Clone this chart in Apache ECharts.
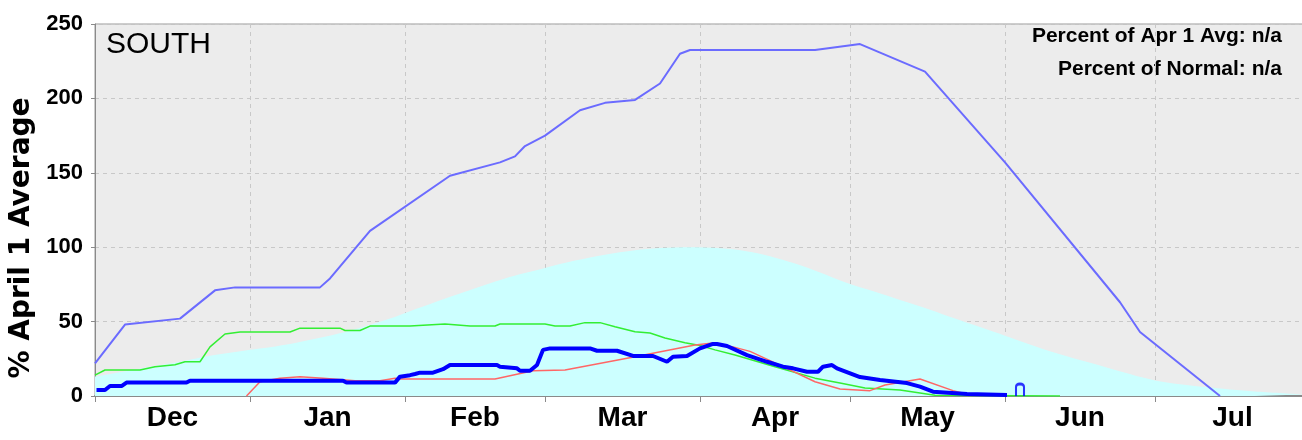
<!DOCTYPE html>
<html>
<head>
<meta charset="utf-8">
<script src="https://cdn.jsdelivr.net/npm/echarts@6.0.0/dist/echarts.min.js"></script>
<style>
  html, body { margin: 0; padding: 0; background: #fff; }
  #c1 { width: 1302px; height: 440px; }
</style>
</head>
<body>
<div id="c1"></div>
<script>
// x = days since Dec 1
const monthNames = ['Dec', 'Jan', 'Feb', 'Mar', 'Apr', 'May', 'Jun', 'Jul']
const monthStarts = [0, 31, 62, 90, 121, 151, 182, 212, 243]
const labelDays = [15.5, 46.5, 76, 105.5, 136, 166.5, 197, 227.5]

// normal (median) – cyan area
const normalArea = [
  [0, 13], [10, 19], [17, 23], [23, 27], [31, 31], [39, 35], [50, 43], [59, 52], [63, 57],
  [74, 70], [82, 79], [90, 86], [96, 91], [102, 95], [108, 98], [113, 99.5], [119, 100],
  [125, 99.3], [130, 97.5], [135, 94], [140, 89], [145, 83], [150, 76.5], [156, 70],
  [161, 64.5], [167, 58], [172, 52], [182, 40.5], [192, 29], [202, 19.5], [212, 10.5],
  [222, 6], [232, 3], [242, 1]
]
// max of record
const maxLine = [
  [0, 22], [6, 48], [17, 52], [24, 71], [28, 73], [45, 73], [47, 79], [55, 111],
  [71, 148], [81, 157], [84, 161], [86, 168], [90, 175], [97, 192], [102, 197],
  [108, 199], [113, 210], [117, 230], [119, 232.5], [144, 232.5], [153, 236.5],
  [166, 218], [182, 157], [205, 63], [209, 43], [225, 0]
]
const greenLine = [
  [0, 14], [2, 17.5], [9, 17.5], [12, 19.7], [16, 21], [18, 23], [21, 23], [23, 33],
  [26, 41.7], [29, 43], [39, 43], [41, 45.6], [49, 45.6], [50, 44], [53, 44], [55, 47],
  [63, 47], [70, 48.4], [75, 47], [80, 47], [81, 48.4], [90, 48.4], [92, 47], [95, 47],
  [98, 49.3], [101, 49.3], [104, 46.6], [108, 43.2], [111, 42.3], [114, 39], [118, 35.8],
  [121, 34], [124, 31], [128, 27.5], [136, 19.7], [144, 12], [149, 8.7], [154, 5.4],
  [161, 4], [168, 0.5], [193, 0]
]
const redLine = [
  [30.3, 0], [33, 9.6], [37, 12], [41, 13], [45.6, 12], [52, 10.3], [57, 10.3], [60, 12],
  [61, 11.4], [80, 11.4], [87.6, 17], [94, 17.5], [108, 26.4], [120, 34.3], [123.6, 35.6],
  [127.6, 33], [131, 30], [137.6, 19.7], [144, 9.6], [149, 4.7], [155, 3.6], [158, 7.4],
  [165, 11.4], [171.6, 3.6], [175, 0.7]
]
// current year
const currentLine = [
  [0.3, 4], [2, 4], [3, 6.7], [5.3, 6.7], [6.3, 9], [18.3, 9], [19, 10.3], [49.6, 10.3],
  [50.3, 9], [60, 9], [61, 13], [63, 14], [64, 14.8], [65, 15.7], [67.6, 15.7], [69.6, 18],
  [71, 20.8], [80.4, 20.8], [81, 19.7], [84.4, 18.6], [85, 17], [87, 17], [88.4, 20.8],
  [89.6, 31], [91, 32], [99, 32], [100.4, 30.4], [104.4, 30.4], [107.6, 26.9], [111.6, 26.9],
  [114.4, 23], [115.6, 26.4], [118.4, 26.9], [121, 32], [123.6, 35], [124.4, 35],
  [126.4, 33.6], [130.4, 27.5], [134.4, 23], [137.6, 19.7], [139.6, 18.6], [142.4, 16.3],
  [144.6, 16.3], [145.6, 19.7], [147.4, 20.8], [148.4, 18.6], [153, 12.7], [157, 10.7],
  [162.4, 8.7], [165, 6.3], [167.6, 2.9], [174.4, 1.3], [182.4, 0.7]
]
const lastPoint = [[185, 4]]

const myChart = echarts.init(document.getElementById('c1'))
const option = {
  animation: false,
  backgroundColor: '#fff',
  grid: {
    left: 95,
    top: 24,
    width: 1210,
    height: 372,
    containLabel: false,
    outerBoundsMode: 'none',
    show: true,
    backgroundColor: '#ececec',
    borderColor: '#9a9a9a',
    borderWidth: 1
  },
  graphic: [
    {
      type: 'text', left: 106, top: 30,
      style: { text: 'SOUTH', font: '30px "Liberation Sans"', fill: '#000' }
    },
    {
      type: 'text', right: 20, top: 26,
      style: { text: 'Percent of Apr 1 Avg: n/a', font: 'bold 21px "Liberation Sans"', fill: '#000', align: 'right' }
    },
    {
      type: 'text', right: 20, top: 59,
      style: { text: 'Percent of Normal: n/a', font: 'bold 21px "Liberation Sans"', fill: '#000', align: 'right' }
    },
    {
      // y axis title
      type: 'text', x: 22, y: 238, rotation: Math.PI / 2,
      style: {
        text: '% April 1 Average', font: 'bold 28px "DejaVu Sans"', fill: '#000',
        align: 'center', verticalAlign: 'middle'
      }
    }
  ],
  xAxis: {
    type: 'value',
    min: 0,
    max: 242,
    axisLine: { show: true, lineStyle: { color: '#8a8a8a', width: 2 } },
    axisTick: {
      show: true, length: 6, customValues: monthStarts,
      lineStyle: { color: '#8a8a8a', width: 1 }
    },
    axisLabel: {
      customValues: labelDays,
      formatter: (v) => monthNames[labelDays.indexOf(v)] || '',
      fontFamily: 'Liberation Sans', fontWeight: 'bold', fontSize: 28, color: '#000', margin: 8
    },
    splitLine: {
      show: true,
      lineStyle: { color: '#c8c8c8', type: [4, 4], width: 1 }
    }
  },
  yAxis: {
    type: 'value',
    min: 0,
    max: 250,
    interval: 50,
    axisLine: { show: true, lineStyle: { color: '#8a8a8a', width: 1 } },
    axisTick: { show: true, length: 4, lineStyle: { color: '#8a8a8a' } },
    axisLabel: {
      fontFamily: 'Liberation Sans', fontWeight: 'bold', fontSize: 22, color: '#000', margin: 12
    },
    splitLine: {
      show: true,
      lineStyle: { color: '#c8c8c8', type: [4, 4], width: 1 }
    }
  },
  series: [
    {
      name: 'normal',
      type: 'line',
      data: normalArea,
      smooth: 0.3,
      showSymbol: false,
      lineStyle: { width: 0 },
      areaStyle: { color: '#ccffff', opacity: 1 },
      z: 1
    },
    {
      name: 'max',
      type: 'line',
      data: maxLine,
      showSymbol: false,
      lineStyle: { color: '#6b6bff', width: 2 },
      z: 3
    },
    {
      name: 'green',
      type: 'line',
      data: greenLine,
      showSymbol: false,
      lineStyle: { color: '#33ee33', width: 1.5 },
      z: 3
    },
    {
      name: 'red',
      type: 'line',
      data: redLine,
      showSymbol: false,
      lineStyle: { color: '#ff6666', width: 1.5 },
      z: 3
    },
    {
      name: 'current',
      type: 'line',
      data: currentLine,
      showSymbol: false,
      lineStyle: { color: '#0000ff', width: 4 },
      z: 4
    },
    {
      name: 'last',
      type: 'scatter',
      data: lastPoint,
      symbol: 'path://M0,12 L0,3 Q0,0 4,0 Q8,0 8,3 L8,12',
      symbolSize: [8, 12],
      itemStyle: { color: 'transparent', borderColor: '#0000ff', borderWidth: 2.5 },
      z: 4
    }
  ]
}
option && myChart.setOption(option)
</script>
</body>
</html>
